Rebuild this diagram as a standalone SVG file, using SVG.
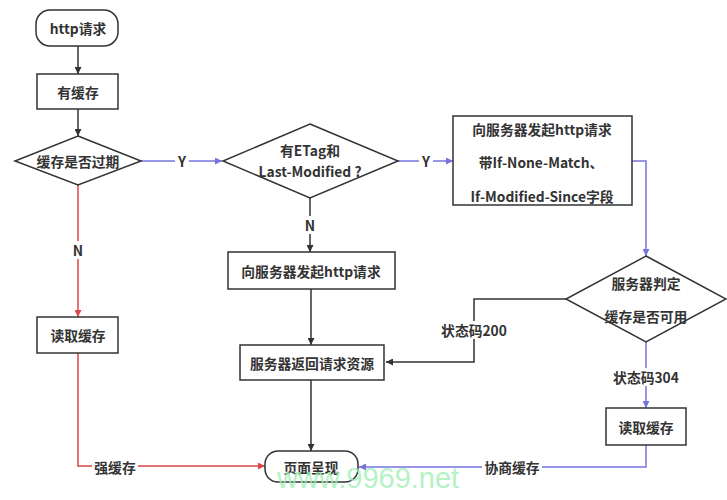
<svg xmlns="http://www.w3.org/2000/svg" width="727" height="500" viewBox="0 0 727 500">
<style>
.n{fill:#fff;stroke:#333;stroke-width:1.5}
.t{font-family:"Noto Sans CJK SC","Liberation Sans",sans-serif;font-size:13.8px;font-weight:bold;fill:#333;text-anchor:middle;dominant-baseline:central}
.k{fill:none;stroke:#333;stroke-width:1.5}
.b{fill:none;stroke:#7474dc;stroke-width:1.5}
.r{fill:none;stroke:#d84848;stroke-width:1.5}
.lb{fill:#fff}
</style>
<defs>
<marker id="ak" viewBox="0 0 10 10" refX="10" refY="5" markerWidth="7" markerHeight="7" orient="auto" markerUnits="userSpaceOnUse"><path d="M0,0L10,5L0,10z" fill="#333"/></marker>
<marker id="ab" viewBox="0 0 10 10" refX="10" refY="5" markerWidth="7" markerHeight="7" orient="auto" markerUnits="userSpaceOnUse"><path d="M0,0L10,5L0,10z" fill="#7474dc"/></marker>
<marker id="ar" viewBox="0 0 10 10" refX="10" refY="5" markerWidth="7" markerHeight="7" orient="auto" markerUnits="userSpaceOnUse"><path d="M0,0L10,5L0,10z" fill="#d84848"/></marker>
</defs>
<rect width="727" height="500" fill="#fff"/>
<g id="connectors">
<path class="k" d="M78,46V74" marker-end="url(#ak)"/>
<path class="k" d="M78,109V136" marker-end="url(#ak)"/>
<path class="b" d="M141,161H222" marker-end="url(#ab)"/>
<path class="b" d="M398,161H453" marker-end="url(#ab)"/>
<path class="b" d="M632,161H646V256" marker-end="url(#ab)"/>
<path class="k" d="M310,198V252" marker-end="url(#ak)"/>
<path class="k" d="M311,289V345" marker-end="url(#ak)"/>
<path class="k" d="M311,380V451" marker-end="url(#ak)"/>
<path class="k" d="M566,299H474V362H386" marker-end="url(#ak)"/>
<path class="b" d="M646,342V408" marker-end="url(#ab)"/>
<path class="b" d="M646,445V467H359" marker-end="url(#ab)"/>
<path class="r" d="M78,185V317" marker-end="url(#ar)"/>
<path class="r" d="M78,353V466H265" marker-end="url(#ar)"/>
<rect class="lb" x="175" y="152" width="14" height="18"/>
<text class="t" x="182" y="161">Y</text>
<rect class="lb" x="419" y="152" width="14" height="18"/>
<text class="t" x="426" y="161">Y</text>
<rect class="lb" x="71" y="241" width="14" height="18"/>
<text class="t" x="78" y="250">N</text>
<rect class="lb" x="303" y="216" width="14" height="18"/>
<text class="t" x="310" y="225">N</text>
<rect class="lb" x="436" y="321" width="76" height="18"/>
<text class="t" x="474" y="330">状态码200</text>
<rect class="lb" x="608" y="368" width="76" height="18"/>
<text class="t" x="646" y="377">状态码304</text>
<rect class="lb" x="482" y="458" width="60" height="18"/>
<text class="t" x="512" y="467">协商缓存</text>
<rect class="lb" x="92" y="458" width="46" height="18"/>
<text class="t" x="115" y="467">强缓存</text>
</g>
<g id="start"><rect class="n" x="36" y="10" width="82" height="36" rx="14"/><text class="t" x="78" y="28">http请求</text></g>
<g id="hasCache"><rect class="n" x="37" y="74" width="81" height="35"/><text class="t" x="78" y="92">有缓存</text></g>
<g id="expired"><path class="n" d="M78,136L141,161L78,185L15,161z"/><text class="t" x="78" y="161">缓存是否过期</text></g>
<g id="etag"><path class="n" d="M310,124L398,161L310,198L223,161z"/><text class="t" x="310" y="150">有ETag和</text><text class="t" x="310" y="171">Last-Modified ?</text></g>
<g id="condReq"><rect class="n" x="453" y="116" width="179" height="89"/><text class="t" x="542" y="129">向服务器发起http请求</text><text class="t" x="541" y="162">带If-None-Match、</text><text class="t" x="542" y="196">If-Modified-Since字段</text></g>
<g id="serverJudge"><path class="n" d="M646,256L726,299L646,342L566,299z"/><text class="t" x="646" y="283">服务器判定</text><text class="t" x="646" y="316">缓存是否可用</text></g>
<g id="request"><rect class="n" x="228" y="252" width="167" height="37"/><text class="t" x="311" y="271">向服务器发起http请求</text></g>
<g id="serverReturn"><rect class="n" x="240" y="345" width="144" height="35"/><text class="t" x="312" y="363">服务器返回请求资源</text></g>
<g id="readCacheL"><rect class="n" x="37" y="317" width="81" height="36"/><text class="t" x="78" y="335">读取缓存</text></g>
<g id="readCacheR"><rect class="n" x="606" y="408" width="80" height="37"/><text class="t" x="646" y="427">读取缓存</text></g>
<g id="render"><rect class="n" x="265" y="451" width="93" height="31" rx="13"/><text class="t" x="311" y="467">页面呈现</text></g>
<text x="277" y="488" font-family="Liberation Sans,sans-serif" font-size="29" fill="#9ef0b4" fill-opacity="0.8">www.9969.net</text>
</svg>
